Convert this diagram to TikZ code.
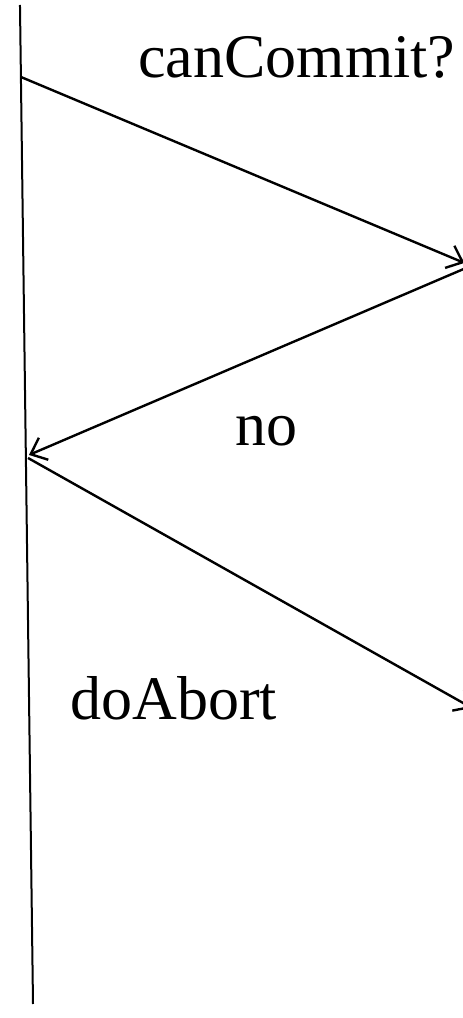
\documentclass[tikz,border=0pt]{standalone}
\usepackage{fontspec}
\setmainfont{Liberation Serif}
\usepackage{tikz}
\usetikzlibrary{arrows.meta}

\begin{document}
\begin{tikzpicture}[>={Straight Barb[length=7pt,width=12pt]},
  msg/.style={->,line width=1.2pt},
  lbl/.style={font=\fontsize{31}{36}\selectfont,inner sep=0pt,anchor=base west}]
\path[use as bounding box,clip] (0,0) rectangle (8.136,17.889);

% timeline of the coordinator
\coordinate (top) at (0.351,17.801);
\coordinate (bot) at (0.580,0.246);
\draw[line width=1pt] (top) -- (bot);

\coordinate (c1) at (0.368,16.536);
\coordinate (p1) at (8.160,13.268);
\coordinate (p2) at (8.190,13.180);
\coordinate (c2) at (0.510,9.894);
\coordinate (c3) at (0.492,9.841);
\coordinate (p3) at (8.294,5.448);

\draw[msg] (c1) -- (p1);
\draw[msg] (p2) -- (c2);
\draw[msg] (c3) -- (p3);

\node[lbl] (canc) at (2.425,16.519) {canCommit?};
\node[lbl] (no) at (4.130,10.069) {no};
\node[lbl] (abrt) at (1.230,5.237) {doAbort};
\end{tikzpicture}
\end{document}
